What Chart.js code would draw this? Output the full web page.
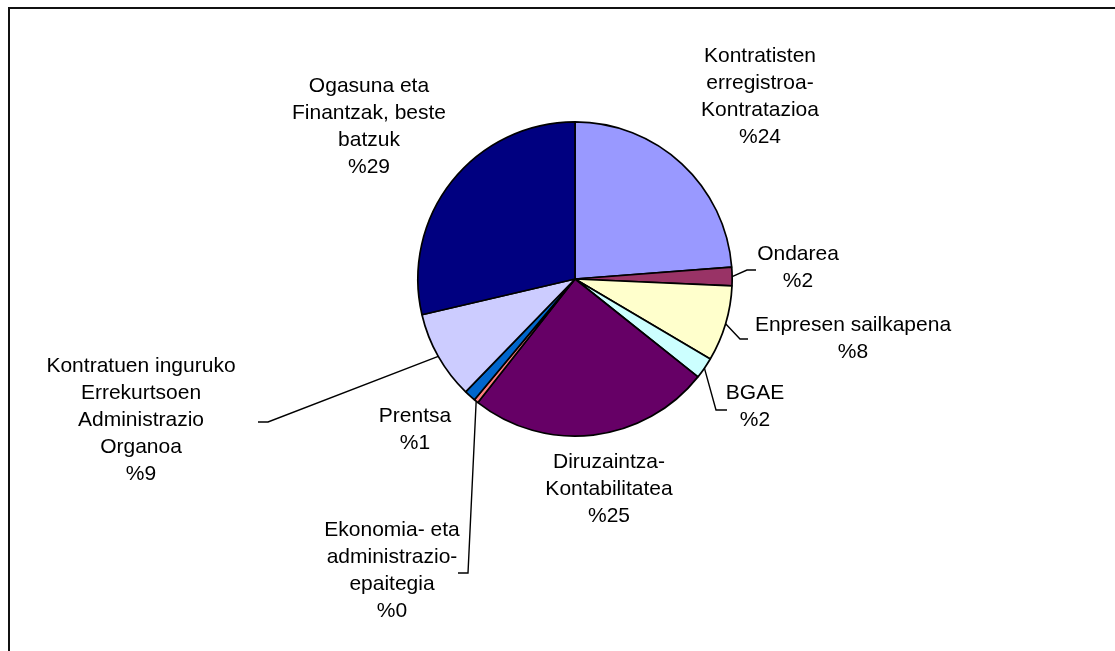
<!DOCTYPE html>
<html lang="eu">
<head>
    <meta charset="UTF-8">
    <title>Pie chart</title>
    <script src="https://cdn.jsdelivr.net/npm/chart.js"></script>
    <style>
        body { margin: 0; background: #fff; overflow: hidden; }
        #wrap { position: relative; width: 1115px; height: 651px; }
        #frame { position: absolute; left: 8px; top: 7px; width: 1200px; height: 700px; border: 2px solid #111; }
        canvas { position: absolute; left: 0; top: 0; }
    </style>
</head>
<body>
    <div id="wrap">
        <div id="frame"></div>
        <canvas id="pieChart" width="1115" height="651"></canvas>
    </div>

    <script>
        // categories (lines as in the original labels)
        const categories = [
            ['Kontratisten', 'erregistroa-', 'Kontratazioa'],
            ['Ondarea'],
            ['Enpresen sailkapena'],
            ['BGAE'],
            ['Diruzaintza-', 'Kontabilitatea'],
            ['Ekonomia- eta', 'administrazio-', 'epaitegia'],
            ['Prentsa'],
            ['Kontratuen inguruko', 'Errekurtsoen', 'Administrazio', 'Organoa'],
            ['Ogasuna eta', 'Finantzak, beste', 'batzuk']
        ];
        // shares in percent
        const shares = [23.8, 1.9, 7.8, 2.2, 24.9, 0.45, 1.2, 9.1, 28.65];
        const colors = ['#9999FF', '#993366', '#FFFFCC', '#CCFFFF', '#660066', '#FF8080', '#0066CC', '#CCCCFF', '#000080'];

        // label placement, relative to pie centre: [dx, dy of first line]
        const labelPos = [
            [185, -223], [223, -25], [278, 46], [180, 114], [34, 183],
            [-183, 251], [-160, 137], [-434, 87], [-206, -193]
        ];
        // leader lines: [elbow, end] relative to pie centre, null = none
        const leaders = [
            null, [[172, -9], [181, -9]], [[165, 60], [173, 60]], [[141, 131], [152, 131]], null,
            [[-107, 294], [-117, 294]], null, [[-307, 143], [-317, 143]], null
        ];

        const labelPlugin = {
            id: 'pieLabels',
            afterDraw(chart) {
                const ctx = chart.ctx;
                const meta = chart.getDatasetMeta(0);
                const data = chart.data.datasets[0].data;
                const total = data.reduce((a, b) => a + b, 0);
                ctx.save();
                // leader lines
                ctx.strokeStyle = '#000';
                ctx.lineWidth = 1.4;
                meta.data.forEach((arc, i) => {
                    if (!leaders[i]) return;
                    const mid = (arc.startAngle + arc.endAngle) / 2;
                    const sx = arc.x + Math.cos(mid) * arc.outerRadius;
                    const sy = arc.y + Math.sin(mid) * arc.outerRadius;
                    ctx.beginPath();
                    ctx.moveTo(sx, sy);
                    ctx.lineTo(arc.x + leaders[i][0][0], arc.y + leaders[i][0][1]);
                    ctx.lineTo(arc.x + leaders[i][1][0], arc.y + leaders[i][1][1]);
                    ctx.stroke();
                });
                // texts
                ctx.fillStyle = '#000';
                ctx.font = '21px "Liberation Sans", Arial, sans-serif';
                ctx.textAlign = 'center';
                ctx.textBaseline = 'middle';
                meta.data.forEach((arc, i) => {
                    const lines = chart.data.labels[i].concat(['%' + Math.round(data[i] / total * 100)]);
                    const x = arc.x + labelPos[i][0];
                    let y = arc.y + labelPos[i][1];
                    lines.forEach(line => {
                        ctx.fillText(line, x, y);
                        y += 27;
                    });
                });
                ctx.restore();
            }
        };

        new Chart(document.getElementById('pieChart'), {
            type: 'pie',
            data: {
                labels: categories,
                datasets: [{
                    data: shares,
                    backgroundColor: colors,
                    borderColor: '#000',
                    borderWidth: 1.7
                }]
            },
            options: {
                responsive: false,
                animation: false,
                layout: {
                    padding: { left: 417, right: 382, top: 120, bottom: 213 }
                },
                plugins: {
                    legend: { display: false },
                    tooltip: { enabled: false }
                }
            },
            plugins: [labelPlugin]
        });
    </script>
</body>
</html>
